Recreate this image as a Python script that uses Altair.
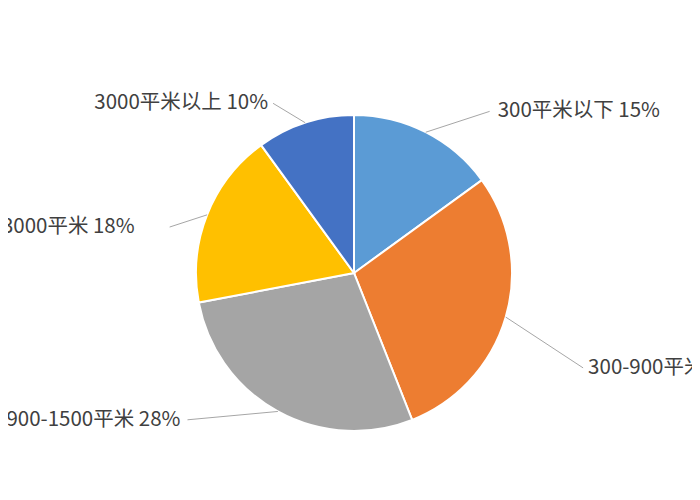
import altair as alt
import pandas as pd

# data
categories = ["300平米以下", "300-900平米", "900-1500平米", "1500-3000平米", "3000平米以上"]
percents = [15, 29, 28, 18, 10]
colors = ["#5B9BD5", "#ED7D31", "#A5A5A5", "#FFC000", "#4472C4"]

# label placement (Excel-like best fit): angular offset (deg), radius, text gap
label_dangle = [13, 6.3, 19.8, -7.6, -7.5]
label_radius = [211, 248, 222, 190, 188]
label_gap = [8, 5, 7, 35, 5]

CX, CY, R = 346, 265, 158

df = pd.DataFrame({
    "cat": categories,
    "pct": percents,
    "idx": list(range(len(categories))),
    "label": [f"{c} {p}%" for c, p in zip(categories, percents)],
    "da": label_dangle,
    "lr": label_radius,
    "gap": label_gap,
})

base = alt.Chart(df)

pie = base.mark_arc(radius=R, stroke="white", strokeWidth=2).encode(
    theta=alt.Theta("pct:Q", stack=True),
    color=alt.Color("cat:N", scale=alt.Scale(domain=categories, range=colors), legend=None),
    order=alt.Order("idx:Q"),
    x=alt.value(CX),
    y=alt.value(CY),
)

geo = base.transform_window(
    cum="sum(pct)", sort=[alt.SortField("idx")], frame=[None, 0]
).transform_joinaggregate(
    total="sum(pct)"
).transform_calculate(
    mid="2*PI*(datum.cum - datum.pct/2)/datum.total"
).transform_calculate(
    ex=f"{CX} + {R}*sin(datum.mid)",
    ey=f"{CY} - {R}*cos(datum.mid)",
    la="datum.mid + datum.da*PI/180",
).transform_calculate(
    lx=f"{CX} + datum.lr*sin(datum.la)",
    ly=f"{CY} - datum.lr*cos(datum.la)",
    side="sin(datum.la) > 0 ? 1 : -1",
).transform_calculate(
    tx="datum.lx + datum.side*datum.gap"
)

leaders = geo.mark_rule(color="#A6A6A6", strokeWidth=1).encode(
    x=alt.X("ex:Q", scale=None, axis=None),
    y=alt.Y("ey:Q", scale=None, axis=None),
    x2="lx:Q",
    y2="ly:Q",
)

text_style = dict(font="Noto Sans CJK SC", fontSize=20.5, color="#404040", baseline="middle")

right_labels = geo.transform_filter("datum.side > 0").mark_text(align="left", **text_style).encode(
    x=alt.X("tx:Q", scale=None, axis=None),
    y=alt.Y("ly:Q", scale=None, axis=None),
    text="label:N",
)
left_labels = geo.transform_filter("datum.side < 0").mark_text(align="right", **text_style).encode(
    x=alt.X("tx:Q", scale=None, axis=None),
    y=alt.Y("ly:Q", scale=None, axis=None),
    text="label:N",
)

chart = alt.layer(pie, leaders, right_labels, left_labels).properties(
    width=684, height=484, autosize="none", padding=0, background="white"
).configure_view(stroke=None)

chart.save("out.html", embed_options={"renderer": "svg", "actions": False})
